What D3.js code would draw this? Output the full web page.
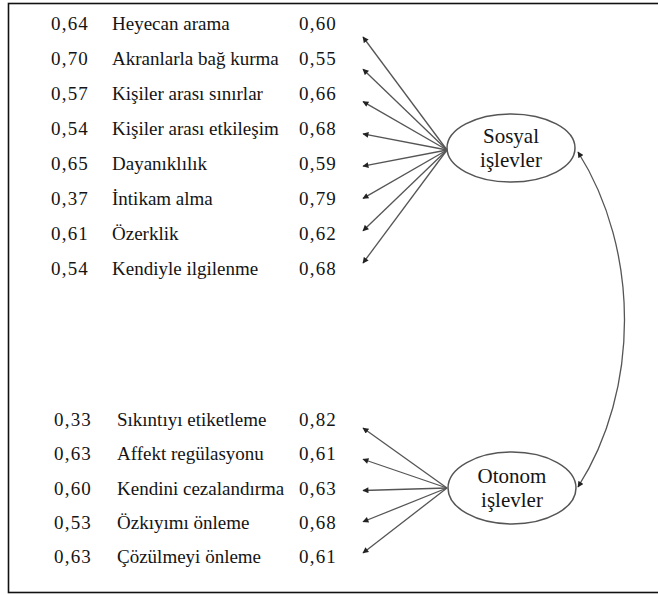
<!DOCTYPE html>
<html>
<head>
<meta charset="utf-8">
<script src="https://cdn.jsdelivr.net/npm/d3@7"></script>
<style>
  body { margin: 0; background: #fff; }
  svg { display: block; }
  text { fill: #141414; }
</style>
</head>
<body>
<svg id="chart" width="658" height="595" font-family="'Liberation Serif', 'DejaVu Serif', 'Times New Roman', serif"></svg>
<script>
// social functions factor
const socialItems = ["Heyecan arama", "Akranlarla bağ kurma", "Kişiler arası sınırlar", "Kişiler arası etkileşim",
  "Dayanıklılık", "İntikam alma", "Özerklik", "Kendiyle ilgilenme"];
const socialLeft = [0.64, 0.70, 0.57, 0.54, 0.65, 0.37, 0.61, 0.54];
const socialRight = [0.60, 0.55, 0.66, 0.68, 0.59, 0.79, 0.62, 0.68];

// autonomous functions factor
const autoItems = ["Sıkıntıyı etiketleme", "Affekt regülasyonu", "Kendini cezalandırma", "Özkıyımı önleme", "Çözülmeyi önleme"];
const autoLeft = [0.33, 0.63, 0.60, 0.53, 0.63];
const autoRight = [0.82, 0.61, 0.63, 0.68, 0.61];

const factors = [["Sosyal", "işlevler"], ["Otonom", "işlevler"]];

const fmt = d3.formatLocale({ decimal: ",", thousands: ".", grouping: [3], currency: ["", ""] }).format(".2f");

const svg = d3.select("#chart");

// frame
svg.append("rect")
  .attr("x", 8.5).attr("y", 3.5)
  .attr("width", 660).attr("height", 589)
  .attr("fill", "none").attr("stroke", "#111").attr("stroke-width", 1.6);

const defs = svg.append("defs");
defs.append("marker")
  .attr("id", "head")
  .attr("viewBox", "0 0 10 10")
  .attr("refX", 9).attr("refY", 5)
  .attr("markerWidth", 7).attr("markerHeight", 6)
  .attr("markerUnits", "userSpaceOnUse")
  .attr("orient", "auto-start-reverse")
  .append("path")
  .attr("d", "M0,0 L10,5 L0,10 Z")
  .attr("fill", "#222");

const lineCol = "#555";

function block(items, left, right, rowRange, tipRange, hub, cx, cy, ry, names, leftX, labelX) {
  const y = d3.scalePoint().domain(items).range(rowRange);
  const tipY = d3.scalePoint().domain(items).range(tipRange);
  const g = svg.append("g");

  g.selectAll("text.l").data(items).join("text")
    .attr("class", "l")
    .attr("x", leftX).attr("y", d => y(d))
    .attr("font-size", 19).attr("letter-spacing", 1.2)
    .text((d, i) => fmt(left[i]));

  g.selectAll("text.n").data(items).join("text")
    .attr("class", "n")
    .attr("x", labelX).attr("y", d => y(d))
    .attr("font-size", 19)
    .text(d => d);

  g.selectAll("text.r").data(items).join("text")
    .attr("class", "r")
    .attr("x", 299).attr("y", d => y(d))
    .attr("font-size", 19).attr("letter-spacing", 1.2)
    .text((d, i) => fmt(right[i]));

  g.selectAll("line").data(items).join("line")
    .attr("x1", hub[0]).attr("y1", hub[1])
    .attr("x2", 363).attr("y2", d => tipY(d))
    .attr("stroke", lineCol).attr("stroke-width", 1.3)
    .attr("marker-end", "url(#head)");

  g.append("ellipse")
    .attr("cx", cx).attr("cy", cy).attr("rx", 64).attr("ry", ry)
    .attr("fill", "none").attr("stroke", lineCol).attr("stroke-width", 1.5);

  g.append("text")
    .attr("x", cx).attr("y", cy - 5)
    .attr("text-anchor", "middle").attr("font-size", 21)
    .text(names[0]);
  g.append("text")
    .attr("x", cx).attr("y", cy + 19)
    .attr("text-anchor", "middle").attr("font-size", 21)
    .text(names[1]);
}

block(socialItems, socialLeft, socialRight, [30, 275], [37, 263], [447, 150], 511, 148, 34, factors[0], 51, 112);
block(autoItems, autoLeft, autoRight, [426, 563], [428, 553], [447, 488], 512, 488, 36, factors[1], 54, 117);

// covariance between factors
const p = d3.path();
p.moveTo(578, 152);
p.bezierCurveTo(640, 250, 640, 390, 578, 487);
svg.append("path")
  .attr("d", p.toString())
  .attr("fill", "none").attr("stroke", lineCol).attr("stroke-width", 1.3)
  .attr("marker-start", "url(#head)").attr("marker-end", "url(#head)");
</script>
</body>
</html>
